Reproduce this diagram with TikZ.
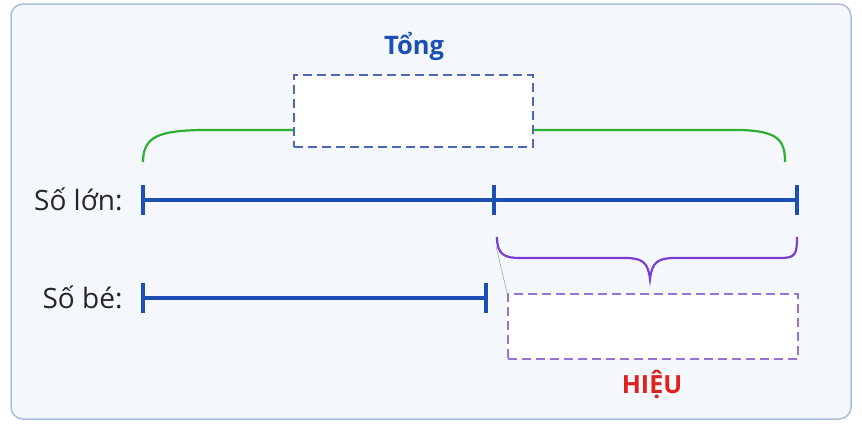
\documentclass[tikz,border=0pt]{standalone}
\usepackage{fontspec}
\setmainfont{Open Sans}
\usetikzlibrary{calc}
\definecolor{bgblue}{HTML}{F4F8FD}
\definecolor{framegray}{HTML}{A9BEDD}
\definecolor{segblue}{HTML}{1C4FB4}
\definecolor{boxblue}{HTML}{4C68B6}
\definecolor{bracegreen}{HTML}{2FB033}
\definecolor{bracepurple}{HTML}{7A3FD2}
\definecolor{boxpurple}{HTML}{9A72D2}
\definecolor{hieured}{HTML}{E0201E}
\tikzset{
  seg/.style={segblue,line width=4pt},
  tick/.style={segblue,line width=4pt},
  blank/.style={fill=white,line width=1.8pt,dash pattern=on 9pt off 5pt},
  lbl/.style={font=\fontsize{28}{32}\selectfont,text=black!85,anchor=east}
}
\begin{document}
\begin{tikzpicture}[x=1pt,y=-1pt]
  \useasboundingbox (0,0) rectangle (862,423);
  \draw[framegray,fill=bgblue,line width=1.5pt,rounded corners=12pt] (11,4) rectangle (851,419);
  % the two numbers
  \coordinate (A1) at (143,200);
  \coordinate (A2) at (494,200);
  \coordinate (A3) at (797,200);
  \coordinate (B1) at (143,298);
  \coordinate (B2) at (486,298);
  \node[lbl] (lon) at (126,199) {Số lớn:};
  \node[lbl] (be) at (126,297) {Số bé:};
  \draw[seg] (A1) -- (A3);
  \draw[seg] (B1) -- (B2);
  \foreach \p in {A1,A2,A3,B1,B2}
    \draw[tick] ($(\p)+(0,-15)$) -- ($(\p)+(0,15)$);
  % sum
  \node[blank,draw=boxblue,minimum width=239pt,minimum height=72pt] (tong) at (413.5,111) {};
  \node[font=\bfseries\fontsize{25.5}{28}\selectfont,text=segblue] (tongl) at (414,46) {Tổng};
  \draw[bracegreen,line width=2.2pt] (143,162) .. controls (143,136) and (160,131) .. (200,130) -- (tong.west |- 0,130);
  \draw[bracegreen,line width=2.2pt] (tong.east |- 0,130) -- (740,130) .. controls (778,131) and (785,140) .. (785,162);
  % difference
  \node[blank,draw=boxpurple,minimum width=290pt,minimum height=65pt] (hieu) at (653,326.5) {};
  \node[font=\bfseries\fontsize{25}{28}\selectfont,text=hieured] (hieul) at (652,384) {HIỆU};
  \draw[bracepurple,line width=2.2pt] (497,237) .. controls (497,255) and (505,258) .. (520,258) -- (625,258)
    .. controls (642,258) and (648,262) .. (650,279) .. controls (652,262) and (658,258) .. (675,258)
    -- (780,258) .. controls (795,258) and (797,255) .. (797,237);
  \draw[gray!70,line width=0.6pt] (496,246) -- (hieu.north west);
\end{tikzpicture}
\end{document}
